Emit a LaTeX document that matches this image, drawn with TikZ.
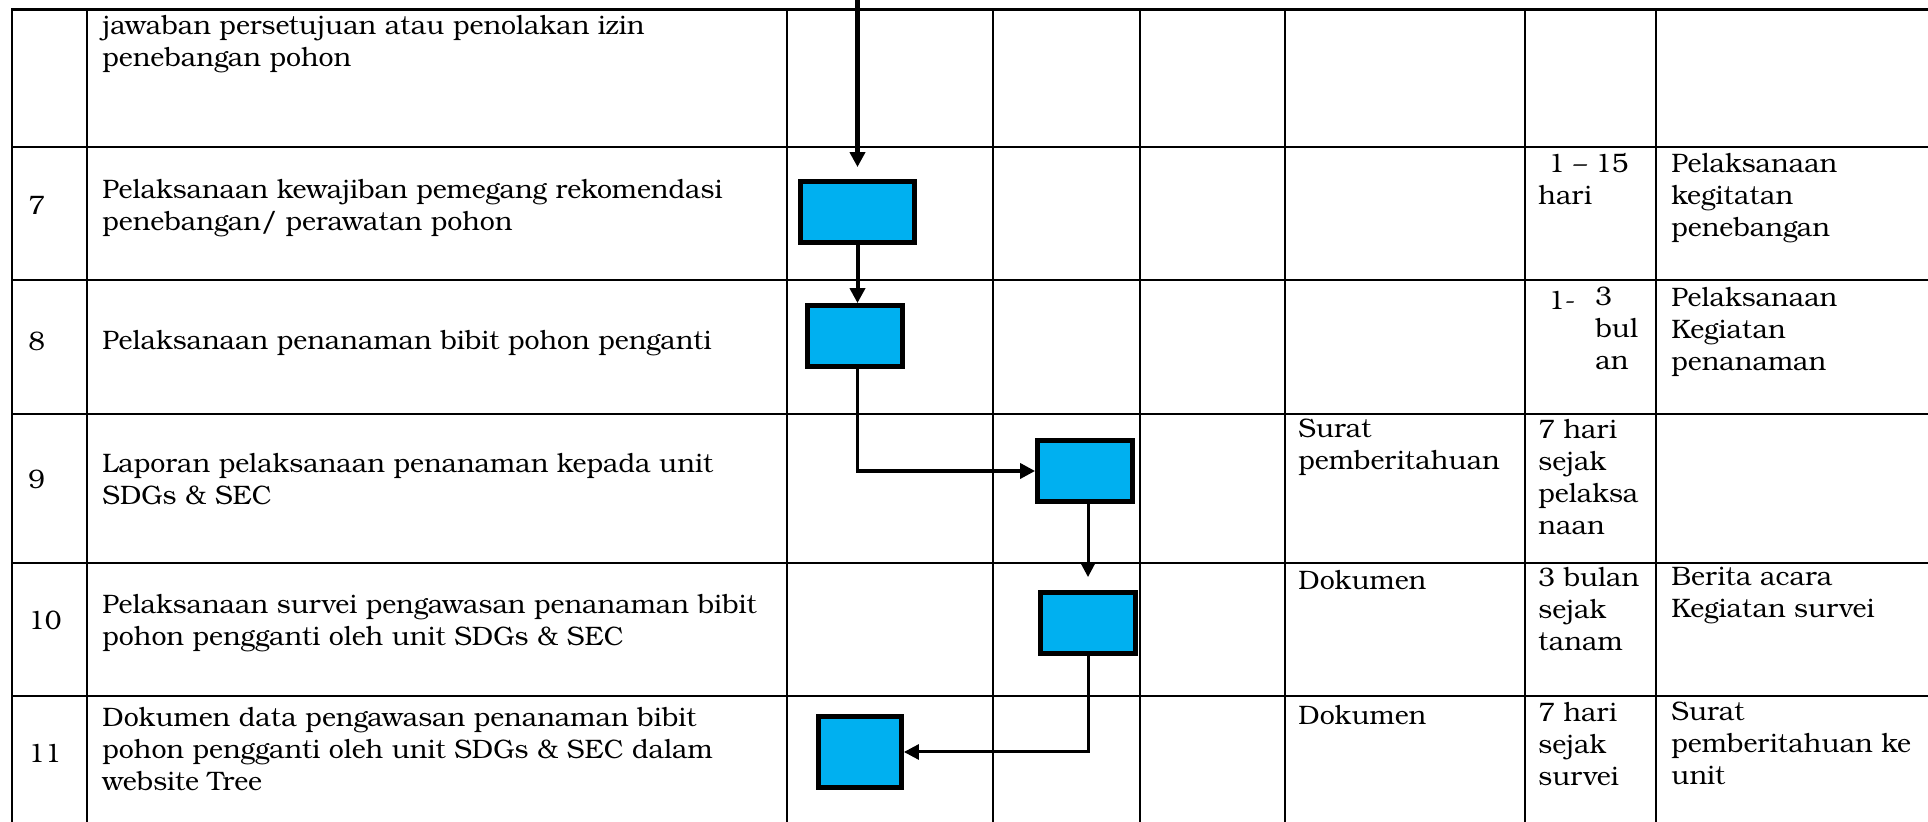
\documentclass[tikz,border=0pt]{standalone}
\usepackage{fontspec}
\setmainfont{TeX Gyre Bonum}
\usetikzlibrary{arrows.meta}
\newcommand\cellfont{\fontsize{13.35}{16}\selectfont}
\definecolor{boxblue}{RGB}{0,176,240}
\begin{document}
\begin{tikzpicture}[x=0.5pt,y=-0.5pt,
  grid/.style={line width=1.2pt,black},
  cell/.style={anchor=north west,inner sep=0pt,align=left,font=\cellfont,execute at begin node=\strut},
  actbox/.style={draw=black,line width=2.4pt,fill=boxblue,inner sep=0pt},
  arr/.style={-{Triangle[length=7.5pt,width=7.5pt]},black}]
\useasboundingbox (0,0) rectangle (1928,822);
% grid
\foreach \x in {12,87,787,993,1140,1285,1525,1656}
  \draw[grid] (\x,9.5) -- (\x,822);
\draw[line width=1.5pt] (11,9.5) -- (1928,9.5);
\foreach \y in {147,280,414,563,696}
  \draw[grid] (12,\y) -- (1928,\y);
% numbers
\node[cell] (n7) at (28,192) {7};
\node[cell] (n8) at (28,328) {8};
\node[cell] (n9) at (28,466) {9};
\node[cell] (n10) at (28,607) {10};
\node[cell] (n11) at (28,740) {11};
% activity texts
\node[cell] (t6) at (102,15) {jawaban persetujuan atau penolakan izin\\penebangan pohon};
\node[cell] (t7) at (102,179) {Pelaksanaan kewajiban pemegang rekomendasi\\penebangan/ perawatan pohon};
\node[cell] (t8) at (102,327) {Pelaksanaan penanaman bibit pohon penganti};
\node[cell] (t9) at (102,453) {Laporan pelaksanaan penanaman kepada unit\\SDGs \& SEC};
\node[cell] (t10) at (102,594) {Pelaksanaan survei pengawasan penanaman bibit\\pohon pengganti oleh unit SDGs \& SEC};
\node[cell] (t11) at (102,707) {Dokumen data pengawasan penanaman bibit\\pohon pengganti oleh unit SDGs \& SEC dalam\\website Tree};
% document column
\node[cell] (d9) at (1298,419) {Surat\\pemberitahuan};
\node[cell] (d10) at (1298,567) {Dokumen};
\node[cell] (d11) at (1298,702) {Dokumen};
% time column
\node[cell] (w7) at (1538,153) {\hspace*{5pt}1 \textendash{} 15\\hari};
\node[cell] (w8a) at (1548,287) {1-};
\node[cell] (w8b) at (1595,287) {3\\bul\\an};
\node[cell] (w9) at (1538,419) {7 hari\\sejak\\pelaksa\\naan};
\node[cell] (w10) at (1538,567) {3 bulan\\sejak\\tanam};
\node[cell] (w11) at (1538,702) {7 hari\\sejak\\survei};
% output column
\node[cell] (o7) at (1671,153) {Pelaksanaan\\kegitatan\\penebangan};
\node[cell] (o8) at (1671,287) {Pelaksanaan\\Kegiatan\\penanaman};
\node[cell] (o10) at (1671,567) {Berita acara\\Kegiatan survei};
\node[cell] (o11) at (1671,702) {Surat\\pemberitahuan ke\\unit};
% boxes
\node[actbox,minimum width=57pt,minimum height=30.5pt] (b7) at (857.5,212) {};
\node[actbox,minimum width=47.5pt,minimum height=30.5pt] (b8) at (855,336) {};
\node[actbox,minimum width=47.5pt,minimum height=30.5pt] (b9) at (1085,471) {};
\node[actbox,minimum width=47.5pt,minimum height=30.5pt] (b10) at (1088,623) {};
\node[actbox,minimum width=41.5pt,minimum height=35.5pt] (b11) at (860,752) {};
% connectors
\coordinate (in7) at (857.5,0);
\draw[arr,line width=2.4pt,shorten >=6pt] (in7) -- (b7.north);
\draw[arr,line width=2pt] (b7.south) -- (b7.south |- b8.north);
\draw[arr,line width=1.8pt] (b7.south |- b8.south) |- (b9.west);
\draw[arr,line width=1.5pt,shorten >=6.5pt] (b10.north |- b9.south) -- (b10.north);
\draw[arr,line width=1.5pt] (b10.south) |- (b11.east);
\end{tikzpicture}
\end{document}
